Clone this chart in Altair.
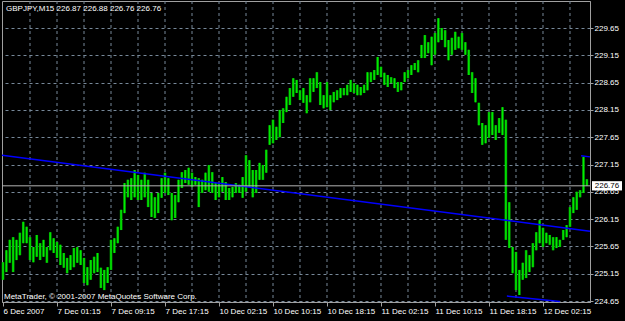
import altair as alt
import pandas as pd

symbol = "GBPJPY,M15"
last_ohlc = [226.87, 226.88, 226.76, 226.76]
copyright_text = "MetaTrader, © 2001-2007 MetaQuotes Software Corp."

# high / low of each bar (price), left to right
highs = [
    225.36, 225.58, 225.77, 225.82, 225.77, 225.90, 226.10, 226.01, 225.82, 225.64,
    225.86, 225.71, 225.77, 225.64, 225.91, 225.80, 225.73, 225.68, 225.53, 225.44,
    225.49, 225.62, 225.64, 225.58, 225.44, 225.27, 225.40, 225.46, 225.53, 225.26,
    225.22, 225.27, 225.77, 225.80, 226.01, 226.32, 226.81, 226.87, 226.90, 227.05,
    226.96, 226.87, 227.00,
    226.87, 226.63, 226.55, 226.63, 226.90, 227.00, 226.90, 226.63, 226.59, 226.87,
    227.01, 227.05, 227.09, 227.00, 226.92, 226.90, 226.87, 227.00, 227.14, 227.01,
    226.81, 226.81, 226.92, 226.83, 226.72, 226.74, 226.81, 226.78, 226.92, 227.32,
    227.23, 227.05, 227.05, 227.18, 227.14, 227.42, 227.87, 227.97, 227.84, 228.15,
    228.18, 228.39, 228.55, 228.73, 228.70,
    228.51, 228.55, 228.42, 228.73, 228.73, 228.84, 228.66, 228.42, 228.66, 228.42,
    228.48, 228.51, 228.55, 228.55, 228.61, 228.70, 228.64, 228.61, 228.57, 228.61,
    228.84, 228.84, 228.88, 229.12, 228.94, 228.83, 228.79, 228.75, 228.73, 228.66,
    228.66, 228.84, 228.88, 228.97, 229.01, 229.06, 229.34, 229.52, 229.39,
    229.49, 229.56, 229.83, 229.65, 229.61, 229.43, 229.47, 229.58, 229.49, 229.56,
    229.39, 229.25, 228.84, 228.73, 228.28, 227.91, 227.87, 228.11, 228.11, 227.87,
    228.00, 228.20, 227.97, 226.46, 225.64, 225.55, 225.22, 225.35, 225.58, 225.49,
    225.71, 225.91, 226.13, 225.99, 225.90, 225.86, 225.82, 225.82, 225.77, 225.95,
    226.04, 226.37, 226.55, 226.65, 226.68, 227.29, 226.88,
]
lows = [
    225.04, 225.18, 225.35, 225.18, 225.40, 225.49, 225.71, 225.71, 225.40, 225.36,
    225.46, 225.40, 225.46, 225.35, 225.58, 225.53, 225.44, 225.31, 225.26, 225.16,
    225.22, 225.27, 225.35, 225.31, 224.98, 224.94, 225.04, 225.16, 225.18, 224.89,
    224.85, 224.98, 225.22, 225.53, 225.71, 225.95, 226.26, 226.55, 226.50, 226.55,
    226.50, 226.50, 226.55,
    226.37, 226.19, 226.17, 226.26, 226.54, 226.63, 226.59, 226.13, 226.17, 226.46,
    226.72, 226.81, 226.78, 226.74, 226.78, 226.37, 226.63, 226.68, 226.65, 226.63,
    226.50, 226.55, 226.65, 226.50, 226.50, 226.55, 226.63, 226.63, 226.54, 226.65,
    226.74, 226.55, 226.63, 226.87, 226.87, 227.00, 227.51, 227.54, 227.60, 227.65,
    227.91, 228.11, 228.24, 228.39, 228.46,
    228.33, 228.28, 228.09, 228.29, 228.48, 228.55, 228.24, 228.18, 228.20, 228.15,
    228.29, 228.33, 228.37, 228.42, 228.42, 228.48, 228.46, 228.42, 228.42, 228.46,
    228.51, 228.66, 228.70, 228.79, 228.75, 228.61, 228.57, 228.64, 228.55, 228.48,
    228.51, 228.66, 228.73, 228.79, 228.88, 228.84, 229.10, 229.10, 229.19,
    228.97, 229.16, 229.39, 229.43, 229.30, 229.06, 229.16, 229.25, 229.28, 229.25,
    229.16, 228.79, 228.46, 228.29, 227.87, 227.51, 227.54, 227.64, 227.69, 227.60,
    227.73, 227.69, 225.77, 225.62, 225.16, 224.85, 224.76, 225.04, 225.07, 225.18,
    225.27, 225.58, 225.71, 225.64, 225.71, 225.68, 225.58, 225.62, 225.64, 225.77,
    225.82, 226.01, 226.26, 226.32, 226.55, 226.63, 226.76,
]

time_labels = ["6 Dec 2007", "7 Dec 01:15", "7 Dec 09:15", "7 Dec 17:15",
               "10 Dec 02:15", "10 Dec 10:15", "10 Dec 18:15", "11 Dec 02:15",
               "11 Dec 10:15", "11 Dec 18:15", "12 Dec 02:15"]
label_every = 16
grid_every = 8
price_ticks = [224.65, 225.15, 225.65, 226.15, 226.65, 227.15,
               227.65, 228.15, 228.65, 229.15, 229.65]

trend_main_bar = [-0.3, 173.93]
trend_main_price = [227.32, 225.93]
trend_low_bar = [149.3, 165.0]
trend_low_price = [224.74, 224.64]
trend_high_bar = [171.3, 173.93]
trend_high_price = [227.31, 227.29]

n = min(len(highs), len(lows))
bars = pd.DataFrame({"i": list(range(n)), "hi": highs[:n], "lo": lows[:n]})
grid_df = pd.DataFrame({"i": list(range(grid_every, n, grid_every))})
trend_df = pd.DataFrame({
    "i": trend_main_bar + trend_low_bar + trend_high_bar,
    "p": trend_main_price + trend_low_price + trend_high_price,
    "line": ["a", "a", "b", "b", "c", "c"],
})
last_close = last_ohlc[3]
price_df = pd.DataFrame({"p": [last_close], "top": [last_close + 0.085],
                         "bot": [last_close - 0.085], "txt": [f"{last_close:.2f}"]})
title_df = pd.DataFrame({"t": [symbol + "  " + " ".join(f"{v:.2f}" for v in last_ohlc)]})
copy_df = pd.DataFrame({"t": [copyright_text]})

FONT = "Liberation Sans"
GRID = "#778899"
AXC = "#a0a0a0"

label_js = "[" + ",".join(f"'{s}'" for s in time_labels) + "]"
x_axis = alt.Axis(values=[k * label_every for k in range(len(time_labels))],
                  labelExpr=f"{label_js}[round(datum.value/{label_every})]",
                  grid=False, labelAlign="left", tickSize=4,
                  tickColor=AXC, domainColor=AXC, labelColor="#ffffff",
                  labelFont=FONT, labelFontSize=8, labelPadding=1,
                  labelOverlap=False, labelFlush=False, title=None)
y_axis = alt.Axis(orient="right", values=price_ticks, format=".2f", grid=True,
                  gridColor=GRID, gridDash=[3, 3], gridOpacity=1, tickSize=3,
                  tickColor=AXC, domainColor=AXC, labelColor="#ffffff",
                  labelFont=FONT, labelFontSize=8, labelPadding=1,
                  labelOverlap=False, labelFlush=False, title=None)
xs = alt.Scale(domain=[-0.3, 173.93], nice=False, zero=False)
ys = alt.Scale(domain=[224.632, 230.145], nice=False, zero=False)

X = alt.X("i:Q", scale=xs, axis=x_axis)
Y = lambda f: alt.Y(f, scale=ys, axis=y_axis)

vgrid = alt.Chart(grid_df).mark_rule(color=GRID, strokeDash=[3, 3], strokeWidth=1).encode(x=X)
bars_wide = alt.Chart(bars).mark_rule(color="#00a800", strokeWidth=2.6).encode(
    x=X, y=Y("lo:Q"), y2="hi:Q")
bars_thin = alt.Chart(bars).mark_rule(color="#00f000", strokeWidth=1.1).encode(
    x=X, y=Y("lo:Q"), y2="hi:Q")
trends = alt.Chart(trend_df).mark_line(color="#0000ff", strokeWidth=1.5).encode(
    x=X, y=Y("p:Q"), detail="line:N")
price_line = alt.Chart(price_df).mark_rule(color="#b4b4b4", strokeWidth=1).encode(y=Y("p:Q"))
price_box = alt.Chart(price_df).mark_rect(color="#ffffff").encode(
    y=Y("top:Q"), y2="bot:Q", x=alt.value(590), x2=alt.value(620))
price_txt = alt.Chart(price_df).mark_text(font=FONT, fontSize=8, color="#000000",
                                          align="center", baseline="middle").encode(
    y=Y("p:Q"), x=alt.value(605), text="txt:N")
title_txt = alt.Chart(title_df).mark_text(font=FONT, fontSize=8, color="#ffffff",
                                          align="left", baseline="middle").encode(
    x=alt.value(4), y=alt.value(8), text="t:N")
copy_txt = alt.Chart(copy_df).mark_text(font=FONT, fontSize=8, color="#ffffff",
                                        align="left", baseline="middle").encode(
    x=alt.value(2), y=alt.value(296), text="t:N")

chart = alt.layer(vgrid, bars_wide, bars_thin, trends, price_line, price_box,
                  price_txt, title_txt, copy_txt).properties(
    width=588, height=301,
    autosize=alt.AutoSizeParams(type="none"),
    padding={"left": 2, "top": 1, "right": 35, "bottom": 19},
).configure(background="#000000").configure_view(stroke="#a0a0a0", strokeWidth=1)

chart.save("out.html", embed_options={"renderer": "svg", "actions": False})
